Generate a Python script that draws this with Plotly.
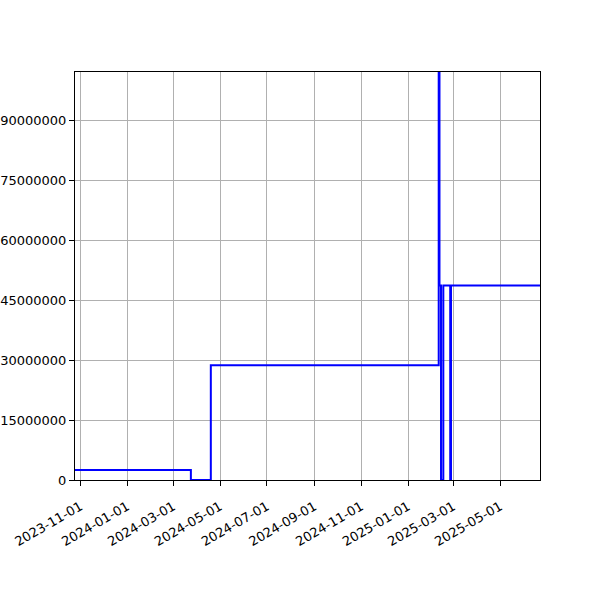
import plotly.graph_objects as go

# step points (value holds until next date)
dates = [
    "2023-10-25", "2024-03-24", "2024-04-19", "2025-02-10", "2025-02-11",
    "2025-02-13", "2025-02-16", "2025-02-25", "2025-02-26", "2025-06-22",
]
values = [
    2500000, 0, 28700000, 102000000, 48600000,
    0, 48600000, 0, 48600000, 48600000,
]
tick_dates = [
    "2023-11-01", "2024-01-01", "2024-03-01", "2024-05-01", "2024-07-01",
    "2024-09-01", "2024-11-01", "2025-01-01", "2025-03-01", "2025-05-01",
]
y_ticks = [0, 15000000, 30000000, 45000000, 60000000, 75000000, 90000000]

fig = go.Figure()
fig.add_trace(go.Scatter(
    x=dates, y=values, mode="lines", line_shape="hv",
    line=dict(color="#0000ff", width=2), showlegend=False,
))

axis_style = dict(
    showline=True, mirror=True, linecolor="black", linewidth=1.2,
    showgrid=True, gridcolor="#b0b0b0", gridwidth=1,
    ticks="outside", ticklen=5, tickcolor="black", zeroline=False,
    automargin=False, layer="below traces",
)
fig.update_xaxes(
    range=["2023-10-25", "2025-06-22"], tickvals=tick_dates, ticktext=tick_dates,
    tickangle=-30, ticklabelstandoff=8, **axis_style,
)
fig.update_yaxes(
    range=[0, 102000000], tickvals=y_ticks, ticktext=[str(v) for v in y_ticks],
    ticklabelstandoff=0, **axis_style,
)
fig.update_layout(
    width=600, height=600,
    margin=dict(l=75, r=60, t=72, b=120),
    plot_bgcolor="white", paper_bgcolor="white",
    font=dict(family="DejaVu Sans", size=13, color="black"),
)

# drop the default page margin so the figure sits at the window corner
fig.write_html(
    "out.html",
    config={"displayModeBar": False},
    post_script="document.body.style.margin='0';",
)
